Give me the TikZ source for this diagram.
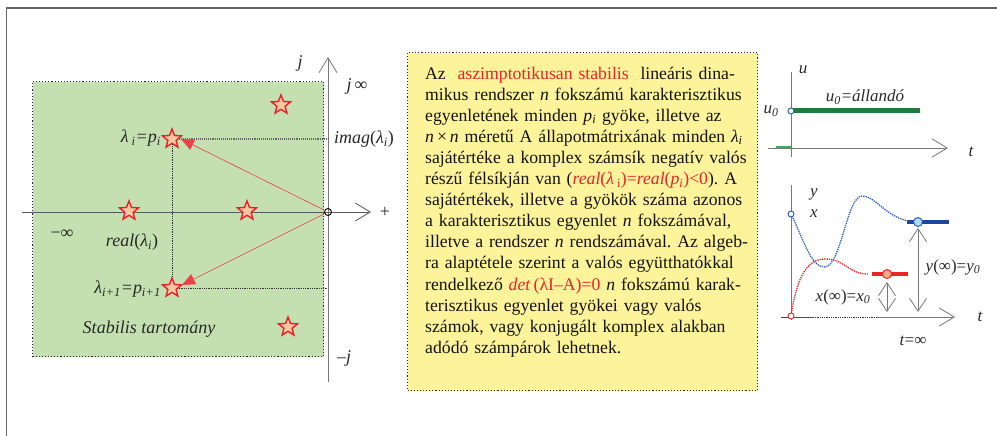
\documentclass[tikz,border=0pt]{standalone}
\usepackage{fontspec}
\setmainfont{Liberation Serif}
\usetikzlibrary{shapes.geometric,arrows.meta}
\definecolor{txtcol}{RGB}{40,40,40}
\definecolor{redtxt}{RGB}{232,36,40}
\definecolor{starred}{RGB}{232,32,40}
\definecolor{starfill}{RGB}{252,200,160}
\definecolor{greenfill}{RGB}{196,223,176}
\definecolor{yellowfill}{RGB}{253,243,155}
\definecolor{axisgray}{RGB}{120,120,120}
\definecolor{framegray}{RGB}{100,100,100}
\definecolor{ugreen}{RGB}{30,125,60}
\definecolor{ulgreen}{RGB}{60,170,90}
\definecolor{yblue}{RGB}{30,70,160}
\definecolor{cblue}{RGB}{40,90,180}
\definecolor{lblue}{RGB}{170,220,240}
\definecolor{lorange}{RGB}{250,170,130}
\tikzset{
  starnode/.style={star, star points=5, star point ratio=2.3, minimum size=20pt, inner sep=0pt, draw=starred, fill=starfill, line width=1.4pt},
  lbl/.style={inner sep=0pt, text=txtcol, font=\fontsize{17}{20}\selectfont},
  axisline/.style={draw=axisgray, line width=0.9pt},
  openarrow/.style={-{Straight Barb[length=15pt,width=18pt,line width=0.8pt]}},
  redarrow/.style={draw=starred!85, line width=0.6pt, -{Triangle[length=13pt,width=11pt]}},
  dotline/.style={draw=black!80, line width=0.8pt, densely dotted},
  boxborder/.style={draw=black!85, line width=1.1pt, dotted},
  smallcirc/.style={circle, inner sep=0pt, minimum size=6pt, line width=0.9pt, fill=white},
  bigcirc/.style={circle, inner sep=0pt, minimum size=9pt, line width=0.9pt},
  dblarrow/.style={draw=axisgray, line width=0.8pt, {Straight Barb[length=13pt,width=17pt,line width=0.8pt]}-{Straight Barb[length=13pt,width=17pt,line width=0.8pt]}},
}
\newcommand{\redt}[1]{\textcolor{redtxt}{#1}}
\newcommand{\subx}[1]{\textsubscript{#1}}
\newcommand{\tline}[1]{\makebox[315pt][s]{#1}}
\begin{document}
\frenchspacing
\begin{tikzpicture}[x=1pt,y=-1pt]
\useasboundingbox (0,0) rectangle (997,436);
% outer frame
\draw[framegray, line width=1.6pt] (6.5,436) -- (6.5,8) -- (997,8);

% ---------------- left plot ----------------
\node[boxborder, fill=greenfill, minimum width=291pt, minimum height=275pt, anchor=north west, inner sep=0pt] (green) at (32,81) {};
\coordinate (hl) at (22,212);
\coordinate (hr) at (371,212);
\coordinate (vt) at (328,57);
\coordinate (vb) at (328,382);
\draw[axisline, draw=black!65, openarrow] (hl) -- (hr);
\draw[axisline, openarrow] (vb) -- (vt);
\node[circle, draw=black, line width=0.9pt, minimum size=7pt, inner sep=0pt] (o) at (328,212) {};

\node[starnode] (s1) at (172,139) {};
\node[starnode] (s2) at (129,211) {};
\node[starnode] (s3) at (247,211) {};
\node[starnode] (s4) at (281,105) {};
\node[starnode] (s5) at (172,288) {};
\node[starnode] (s6) at (288,327) {};

\coordinate (imagend) at (328,139);
\coordinate (lowend) at (328,288);
\draw[draw=black!60, line width=1.1pt, densely dotted] (s1.east) -- (imagend);
\draw[dotline] (s1.south) -- (s5.north);
\draw[dotline] (s5.east) -- (lowend);

\coordinate (a1) at (181,139);
\coordinate (a2) at (182,285);
\draw[redarrow] (o) -- (a1);
\draw[redarrow] (o) -- (a2);

\node[lbl, font=\fontsize{18}{20}\selectfont] (plus) at (385,212) {+};
\node[lbl, font=\fontsize{18}{20}\itshape\selectfont] (jlab) at (300,63) {j};
\node[lbl, font=\fontsize{18}{20}\selectfont] (jinf) at (357,86) {\textit{j}\,∞};
\node[lbl, font=\fontsize{18}{20}\selectfont, anchor=west] (imag) at (334,139) {\textit{imag}(\textit{λ\subx{i}})};
\node[lbl, font=\fontsize{18}{20}\selectfont] (minf) at (62,234) {−∞};
\node[lbl, font=\fontsize{18}{20}\selectfont] (real) at (132,242) {\textit{real}(\textit{λ\subx{i}})};
\node[lbl, font=\fontsize{18}{20}\selectfont, anchor=east] (li) at (161,138) {\textit{λ\,\subx{i}=p\subx{i}}};
\node[lbl, font=\fontsize{18}{20}\selectfont, anchor=east] (li1) at (161,289) {\textit{λ\subx{i+1}=p\subx{i+1}}};
\node[lbl, font=\fontsize{18}{20}\itshape\selectfont] (stab) at (149,329) {Stabilis tartomány};
\node[lbl, font=\fontsize{18}{20}\selectfont] (mj) at (344,358) {–\textit{j}};

% ---------------- text box ----------------
\node[boxborder, fill=yellowfill, minimum width=350pt, minimum height=338pt, anchor=north west, inner sep=0pt] (ybox) at (407,52) {};
\node[anchor=north west, inner sep=0pt, text=black!92, font=\fontsize{17.7}{21.1}\selectfont, text width=315pt, align=left] (txt) at (425,66.5) {%
\tline{Az \ \redt{aszimptotikusan stabilis} \ lineáris dina-}\\
\tline{mikus rendszer \textit{n} fokszámú karakterisztikus}\\
\tline{egyenletének minden \textit{p\subx{i}} gyöke, illetve az}\\
\tline{\textit{n}\,×\,\textit{n} méretű A állapotmátrixának minden \textit{λ\subx{i}}}\\
\tline{sajátértéke a komplex számsík negatív valós}\\
\tline{részű félsíkján van (\redt{\textit{real}(\textit{λ}\,\subx{i})=\textit{real}(\textit{p\subx{i}})<0}). A}\\
\tline{sajátértékek, illetve a gyökök száma azonos}\\
\tline{a karakterisztikus egyenlet \textit{n} fokszámával,}\\
\tline{illetve a rendszer \textit{n} rendszámával. Az algeb-}\\
\tline{ra alaptétele szerint a valós együtthatókkal}\\
\tline{rendelkező \redt{\textit{det}\,(λI–A)=0} \textit{n} fokszámú karak-}\\
\tline{terisztikus egyenlet gyökei vagy valós}\\
\tline{számok, vagy konjugált komplex alakban}\\
adódó számpárok lehetnek.};

% ---------------- top-right plot ----------------
\coordinate (uhl) at (768,148);
\coordinate (uhr) at (948,148);
\coordinate (uvb) at (791,157);
\coordinate (uvt) at (791,72);
\draw[axisline, openarrow] (uhl) -- (uhr);
\draw[axisline] (uvb) -- (uvt);
\coordinate (gstart) at (791,111);
\coordinate (gend) at (920,111);
\draw[ugreen, line width=5pt] (gstart) -- (gend);
\coordinate (sg1) at (776,146.5);
\coordinate (sg2) at (791,146.5);
\draw[ulgreen, line width=2pt] (sg1) -- (sg2);
\node[smallcirc, draw=cblue] (uc) at (791,111) {};
\node[lbl, font=\fontsize{17}{20}\itshape\selectfont] (ulab) at (803,70) {u};
\node[lbl, font=\fontsize{17}{20}\itshape\selectfont] (tlab1) at (971,152) {t};
\node[lbl, font=\fontsize{17}{20}\itshape\selectfont] (u0) at (771,111) {u\subx{0}};
\node[lbl, font=\fontsize{17}{20}\itshape\selectfont] (uconst) at (865,97) {u\subx{0}=állandó};

% ---------------- bottom-right plot ----------------
\coordinate (bv1) at (791,320);
\coordinate (bv2) at (791,185);
\draw[axisline] (bv1) -- (bv2);
\coordinate (bh1) at (781,317);
\coordinate (bh2) at (813,317);
\coordinate (bh3) at (877,317);
\coordinate (bh4) at (955,317);
\draw[draw=black!70, line width=0.9pt] (bh1) -- (bh2);
\draw[dotline] (bh2) -- (bh3);
\draw[axisline, openarrow] (bh3) -- (bh4);

\coordinate (ys) at (791,214);
\coordinate (ye) at (918,222);
\draw[cblue, line width=1.3pt, densely dotted] (ys) .. controls (803,238) and (811,268) .. (825,267) .. controls (841,266) and (847,196) .. (862,196) .. controls (877,196) and (888,222) .. (ye);
\coordinate (xs) at (791,316);
\coordinate (xe) at (868,274);
\draw[redtxt, line width=1.3pt, densely dotted] (xs) .. controls (797,275) and (808,259) .. (825,259) .. controls (845,259) and (848,274) .. (xe);

\coordinate (yl1) at (907,222);
\coordinate (yl2) at (949,222);
\draw[yblue, line width=4.5pt] (yl1) -- (yl2);
\coordinate (xl1) at (872,274);
\coordinate (xl2) at (908,274);
\draw[redtxt, line width=4.5pt] (xl1) -- (xl2);
\node[smallcirc, draw=cblue] (yc0) at (791,214) {};
\node[smallcirc, draw=redtxt] (xc0) at (791,316) {};
\node[bigcirc, draw=cblue, fill=lblue] (yc) at (918,222) {};
\node[bigcirc, draw=redtxt, fill=lorange] (xc) at (887,274) {};

\coordinate (xa1) at (887,282);
\coordinate (xa2) at (887,312);
\draw[dblarrow] (xa1) -- (xa2);
\coordinate (ya1) at (918,228);
\coordinate (ya2) at (918,312);
\draw[dblarrow] (ya1) -- (ya2);

\node[lbl, font=\fontsize{17}{20}\itshape\selectfont] (ylab) at (814,194) {y};
\node[lbl, font=\fontsize{17}{20}\itshape\selectfont] (xlab) at (814,214) {x};
\node[lbl, font=\fontsize{17}{20}\itshape\selectfont] (tlab2) at (980,317) {t};
\node[lbl, font=\fontsize{17}{20}\selectfont] (tinf) at (913,341) {\textit{t}=∞};
\node[lbl, font=\fontsize{17}{20}\selectfont] (yinf) at (953,267) {\textit{y}(∞)=\textit{y\subx{0}}};
\node[lbl, font=\fontsize{17}{20}\selectfont] (xinf) at (843,297) {\textit{x}(∞)=\textit{x\subx{0}}};
\end{tikzpicture}
\end{document}
